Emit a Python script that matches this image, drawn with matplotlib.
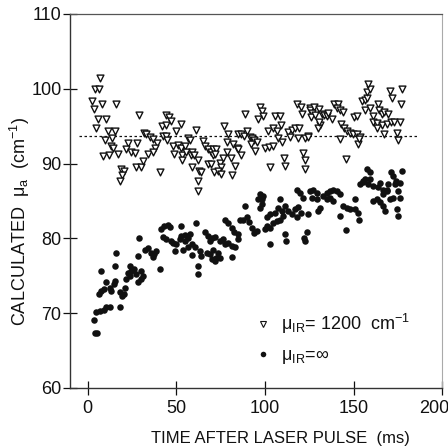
import matplotlib
matplotlib.use("Agg")
import matplotlib.pyplot as plt
import matplotlib.transforms as mtransforms
from matplotlib.lines import Line2D

plt.rcParams['font.family'] = ['Liberation Sans', 'DejaVu Sans']
plt.rcParams['mathtext.default'] = 'regular'

# mu_IR = 1200 cm-1 (open down triangles)
tri_t = [7.2, 4.0, 6.2, 2.4, 8.1, 3.4, 15.8, 5.8, 10.5, 29.0, 4.9, 11.5, 15.3, 9.6, 13.7,
         13.0, 14.3, 17.1, 8.6, 11.9, 18.6, 20.5, 19.4, 18.1, 22.8, 28.0, 21.9, 24.7, 26.6,
         27.5, 30.3, 31.2, 34.0, 31.8, 33.1, 35.0, 36.9, 39.4, 37.9, 36.9, 40.7, 42.5, 44.4,
         42.2, 44.1, 44.4, 45.8, 46.9, 52.9, 50.1, 45.0, 48.2, 51.0, 52.9, 54.8, 48.5, 53.5,
         55.5, 53.3, 58.2, 61.4, 56.7, 57.6, 58.6, 60.0, 59.0, 62.7, 62.3, 62.3, 65.1, 66.1,
         68.0, 69.5, 70.8, 72.7, 70.8, 72.1, 62.3, 64.2, 68.0, 69.5, 74.6, 75.5, 71.4, 73.3,
         75.5, 81.2, 77.0, 79.3, 78.7, 82.1, 84.0, 84.9, 78.4, 80.8, 83.1, 76.4, 86.8, 84.6,
         86.8, 88.3, 89.7, 91.5, 92.8, 94.0, 95.3, 92.1, 94.4, 88.7, 97.2, 98.1, 99.0, 96.2,
         105.6, 108.5, 101.5, 104.7, 106.6, 109.0, 100.0, 102.3, 104.7, 107.2, 109.8, 102.8,
         111.0, 111.3, 112.8, 115.1, 117.0, 119.2, 114.1, 118.8, 117.9, 120.3, 121.1, 122.6,
         124.1, 122.6, 121.6, 122.6, 125.4, 125.4, 127.9, 126.4, 126.0, 128.2, 130.5, 132.0,
         133.5, 134.8, 135.8, 131.1, 129.8, 130.5, 137.7, 139.2, 141.1, 140.5, 142.4, 144.2,
         124.5, 142.4, 142.9, 144.8, 146.1, 148.0, 149.9, 151.8, 153.7, 152.7, 153.1, 145.6,
         150.5, 151.8, 154.6, 156.5, 157.5, 157.5, 159.3, 158.4, 156.5, 159.3, 161.2, 163.7,
         164.4, 165.9, 167.4, 169.7, 161.2, 163.1, 166.3, 168.7, 171.2, 173.1, 176.3, 163.1,
         167.4, 174.4, 175.3, 170.6, 171.9, 177.2, 176.8]
tri_mu = [101.4, 99.9, 99.9, 98.3, 97.9, 97.3, 98.0, 95.9, 95.9, 96.5, 94.7, 94.3, 94.3, 93.2,
          93.4, 92.3, 92.1, 91.3, 91.0, 91.2, 89.2, 89.0, 88.4, 87.7, 92.8, 92.8, 91.9, 91.6,
          91.4, 89.5, 89.6, 90.4, 91.3, 94.1, 93.9, 93.5, 93.3, 92.8, 92.1, 91.6, 88.8, 93.7,
          93.7, 95.0, 95.1, 96.5, 96.2, 95.7, 95.3, 94.4, 93.2, 92.3, 92.5, 92.1, 92.3, 91.3,
          91.2, 91.6, 90.5, 91.2, 94.5, 93.4, 93.2, 91.6, 91.2, 89.6, 89.0, 87.6, 86.3, 93.0,
          92.3, 92.0, 91.6, 91.9, 91.9, 91.2, 91.3, 90.5, 88.8, 90.0, 90.0, 90.1, 89.6, 88.8,
          89.0, 88.6, 88.5, 95.0, 94.0, 92.9, 92.6, 92.1, 91.9, 91.6, 90.8, 89.7, 90.8, 91.2,
          94.0, 93.9, 93.7, 94.4, 93.6, 93.4, 93.1, 92.9, 92.6, 91.7, 96.6, 97.6, 97.0, 96.3,
          95.9, 96.3, 96.4, 94.3, 94.8, 94.4, 95.2, 92.1, 92.2, 92.3, 93.4, 92.9, 89.6, 90.8,
          89.7, 94.2, 94.5, 94.8, 94.8, 93.6, 93.4, 98.0, 97.6, 96.6, 93.4, 93.7, 90.5, 91.4,
          89.2, 97.4, 97.1, 97.5, 96.8, 96.2, 96.5, 97.3, 96.6, 96.5, 96.3, 96.8, 95.2, 94.8,
          95.6, 95.9, 98.0, 97.9, 97.4, 97.1, 96.9, 93.6, 93.3, 95.3, 94.7, 94.4, 94.1, 93.9,
          93.9, 93.6, 92.6, 93.3, 90.6, 96.2, 96.3, 98.3, 98.5, 98.8, 99.6, 99.9, 100.6, 97.2,
          97.4, 96.4, 97.9, 97.2, 96.6, 96.9, 96.6, 95.6, 95.4, 95.1, 95.3, 95.5, 95.6, 95.5,
          94.7, 94.0, 94.1, 93.2, 99.7, 98.8, 99.9, 98.0]

# mu_IR = infinity (filled dots)
dot_t = [4.0, 5.5, 3.6, 4.9, 6.8, 9.2, 10.5, 12.4, 18.1, 6.2, 7.7, 9.2, 10.5, 12.4, 13.4, 14.9,
         15.6, 7.3, 15.6, 16.2, 18.1, 19.4, 20.5, 21.3, 21.9, 23.7, 22.8, 24.7, 26.2, 27.5,
         30.3, 31.2, 28.4, 29.9, 23.7, 28.4, 28.8, 32.6, 34.1, 35.6, 37.5, 38.8, 36.9, 40.7,
         41.2, 43.1, 45.4, 46.3, 42.5, 44.4, 46.9, 48.2, 50.1, 52.0, 52.9, 54.8, 56.7, 58.6,
         60.5, 49.2, 53.8, 58.9, 52.9, 61.4, 54.8, 56.7, 57.6, 62.3, 62.3, 63.3, 64.2, 67.1,
         68.9, 70.8, 69.9, 72.7, 73.6, 66.1, 68.0, 69.9, 71.8, 68.9, 74.6, 76.4, 77.4, 79.3,
         81.2, 83.1, 81.2, 77.4, 79.3, 81.5, 82.7, 84.6, 84.9, 74.6, 71.8, 85.9, 87.7, 89.7,
         91.0, 92.5, 94.0, 95.3, 88.7, 96.2, 97.2, 98.1, 99.0, 101.0, 102.8, 104.7, 106.6,
         108.5, 110.3, 100.0, 101.0, 102.8, 105.6, 107.2, 108.5, 109.8, 111.3, 113.2, 102.8,
         111.3, 111.7, 115.1, 117.0, 118.8, 120.3, 121.6, 117.9, 122.2, 122.6, 124.5, 123.6,
         126.4, 129.2, 131.1, 130.1, 132.9, 134.8, 136.7, 138.6, 142.4, 144.2, 146.1, 148.0,
         150.8, 152.7, 153.1, 150.8, 145.6, 161.2, 163.1, 165.0, 166.8, 167.8, 170.6, 172.5,
         176.3, 174.4, 175.3, 165.0, 164.0, 168.8, 169.7, 171.0, 172.5, 174.0, 177.2, 176.3,
         175.3, 166.8, 117.9, 119.8, 125.4, 127.3, 129.2, 134.8, 136.7, 138.6, 140.5, 142.4,
         157.5, 159.3, 156.5, 155.5, 158.4, 161.2, 166.8, 168.7, 173.4, 97.2, 98.1, 153.7,
         155.5, 159.3]
dot_mu = [67.4, 67.4, 69.1, 70.1, 70.3, 70.4, 70.8, 70.8, 70.8, 72.6, 73.0, 73.2, 74.2, 73.4,
          73.0, 73.9, 74.3, 75.6, 76.3, 78.1, 72.8, 72.3, 72.5, 73.4, 74.5, 75.0, 75.4, 75.6,
          75.9, 75.2, 75.6, 75.0, 74.1, 74.5, 76.3, 77.6, 80.0, 78.4, 78.7, 78.1, 77.9, 78.3,
          77.5, 75.9, 81.3, 81.6, 81.8, 81.5, 80.2, 79.9, 79.6, 79.4, 79.2, 79.9, 80.3, 79.6,
          78.8, 79.2, 78.8, 78.3, 78.4, 77.8, 81.6, 82.0, 80.5, 80.1, 80.6, 76.3, 75.2, 78.3,
          77.6, 78.1, 77.9, 78.5, 77.2, 77.4, 78.0, 80.8, 80.3, 80.1, 80.2, 79.6, 79.6, 79.9,
          79.2, 79.4, 79.0, 78.8, 77.5, 82.5, 82.1, 81.4, 80.9, 80.6, 79.9, 77.4, 77.0, 82.4,
          82.5, 82.8, 82.2, 81.4, 80.7, 81.0, 84.3, 85.2, 84.1, 84.6, 85.6, 81.6, 81.4, 82.0,
          82.3, 82.5, 83.0, 81.2, 82.8, 83.2, 83.4, 84.1, 85.2, 83.7, 84.3, 83.6, 79.2, 80.6,
          79.7, 83.2, 83.9, 84.2, 83.4, 85.4, 82.8, 80.1, 79.6, 83.2, 80.8, 85.4, 85.2, 84.1,
          83.6, 85.6, 85.2, 85.4, 85.0, 83.0, 84.3, 84.1, 83.9, 83.9, 83.4, 82.5, 85.2, 81.1,
          85.0, 85.2, 84.8, 84.3, 83.6, 85.2, 85.4, 85.4, 83.9, 83.0, 87.4, 86.8, 86.5, 87.2,
          88.8, 88.3, 87.6, 89.0, 87.4, 86.3, 85.9, 86.5, 86.1, 86.3, 86.5, 86.1, 86.1, 86.3,
          86.5, 86.3, 85.9, 89.2, 88.8, 87.9, 87.5, 87.2, 87.0, 86.5, 86.3, 87.2, 85.9, 85.3,
          87.2, 87.6, 87.9]

ref_level = 93.7
labels = [u'\u03bc$_{IR}$= 1200  cm$^{-1}$', u'\u03bc$_{IR}$=$\\infty$']

ink = '#111111'

fig = plt.figure(figsize=(4.48, 4.47), dpi=100)
ax = fig.add_axes([0.156, 0.132, 0.831, 0.837])

ax.scatter(tri_t, tri_mu, marker='v', s=24, facecolors='white', edgecolors=ink,
           linewidths=1.0, zorder=3)
ax.scatter(dot_t, dot_mu, marker='o', s=22, c=ink, linewidths=0, zorder=3)
ax.hlines(ref_level, -5, 186, colors=ink, linestyles=(0, (2, 2)), linewidth=0.9, zorder=2)

ax.set_xlim(-10, 200)
ax.set_ylim(60, 110)
ax.set_xticks([0, 50, 100, 150, 200])
ax.set_yticks([60, 70, 80, 90, 100, 110])
ax.tick_params(axis='both', direction='inout', length=10, width=0.9, colors=ink,
               labelsize=13, pad=4)
ax.tick_params(axis='y', pad=1)

# last x label sits at the figure edge, nudge it left a bit
last = ax.get_xticklabels()[-1]
last.set_transform(last.get_transform() +
                   mtransforms.ScaledTranslation(-6 / 72, 0, fig.dpi_scale_trans))

for s in ['left', 'bottom']:
    ax.spines[s].set_color('#333333')
    ax.spines[s].set_linewidth(1.0)
ax.spines['top'].set_color('#555555')
ax.spines['top'].set_linewidth(0.9)
ax.spines['right'].set_color('#aaaaaa')
ax.spines['right'].set_linewidth(0.8)

fig.text(0.627, 0.02, 'TIME AFTER LASER PULSE  (ms)', fontsize=12, color=ink,
         ha='center', va='center')
fig.text(0.045, 0.505, u'CALCULATED  \u03bc$_{a}$  (cm$^{-1}$)', rotation=90,
         fontsize=13, color=ink, ha='center', va='center')

handles = [Line2D([], [], ls='none', marker='v', markersize=4, markerfacecolor='white',
                  markeredgecolor=ink, markeredgewidth=0.8),
           Line2D([], [], ls='none', marker='o', markersize=4, markerfacecolor=ink,
                  markeredgewidth=0)]
ax.legend(handles, labels, loc='upper left', bbox_to_anchor=(0.48, 0.222), frameon=False,
          fontsize=13, handlelength=0.8, handletextpad=0.6, labelspacing=0.62,
          borderaxespad=0, labelcolor=ink)

fig.savefig('out.png', dpi=100)
